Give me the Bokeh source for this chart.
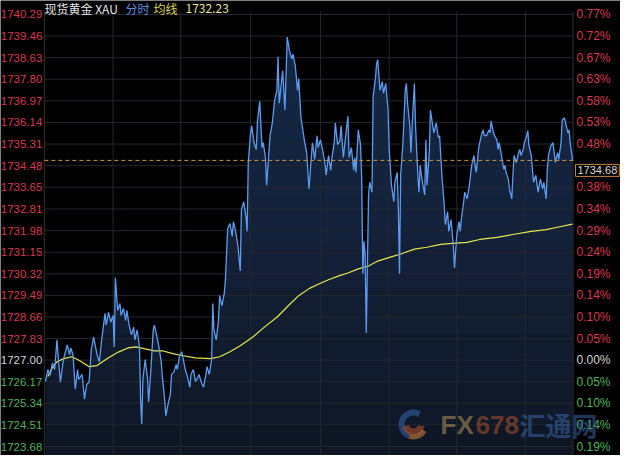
import numpy as np
from bokeh.plotting import figure
from bokeh.models import Label, Range1d, ColumnDataSource
from bokeh.core.properties import value
from bokeh.embed import file_html
from bokeh.resources import INLINE

# ---------------- data ----------------
price_minutes = [
    0, 2, 4, 6, 8, 10, 11, 13, 15, 16,
    19, 21, 22, 24, 26, 28, 29, 32, 34, 36,
    38, 40, 42, 45, 47, 49, 52, 53, 55, 57,
    59, 60, 61, 63, 65, 66, 68, 70, 71, 73,
    75, 77, 78, 80, 82, 83, 84, 85, 87, 89,
    90, 92, 94, 95, 97, 99, 101, 102, 104, 105,
    107, 109, 110, 112, 114, 115, 117, 119, 121, 122,
    124, 126, 127, 129, 131, 133, 134, 136, 138, 140,
    141, 143, 145, 146, 147, 149, 151, 152, 154, 156,
    157, 159, 161, 163, 164, 166, 168, 170, 171, 173,
    175, 176, 177, 179, 180, 182, 184, 185, 187, 189,
    190, 192, 193, 195, 196, 198, 200, 202, 203, 204,
    206, 207, 209, 211, 213, 215, 216, 218, 220, 221,
    223, 225, 226, 228, 230, 232, 233, 235, 237, 238,
    240, 242, 244, 245, 247, 249, 250, 252, 253, 255,
    257, 258, 260, 262, 264, 265, 267, 269, 270, 271,
    273, 275, 276, 277, 278, 279, 280, 282, 283, 285,
    286, 288, 289, 290, 292, 294, 295, 297, 299, 300,
    302, 304, 305, 307, 308, 309, 310, 312, 314, 315,
    316, 318, 319, 320, 322, 323, 325, 326, 327, 329,
    331, 332, 333, 335, 336, 338, 339, 341, 343, 344,
    346, 348, 349, 351, 352, 354, 356, 357, 359, 361,
    362, 363, 365, 366, 368, 370, 371, 372, 374, 375,
    376, 378, 379, 381, 382, 383, 385, 387, 388, 389,
    391, 392, 394, 395, 396, 398, 400, 401, 402, 404,
    405, 407, 408, 409, 411, 413, 414, 415, 417, 418,
    420, 421, 422, 424, 425, 426, 428, 430, 431, 432,
    434, 435, 437, 438, 439, 441, 443, 444, 445, 447,
    448, 450, 451, 453, 454, 456, 457, 458, 460,
]
price_values = [
    1726.18, 1726.64, 1726.41, 1726.90, 1726.64, 1727.78, 1727.21, 1726.15, 1726.83, 1727.09,
    1727.59, 1727.21, 1727.47, 1727.21, 1725.88, 1726.64, 1726.26, 1726.45, 1725.50, 1726.07,
    1726.15, 1727.40, 1727.89, 1727.21, 1726.94, 1727.78, 1728.80, 1728.35, 1728.84, 1728.46,
    1728.72, 1727.51, 1730.17, 1728.91, 1729.18, 1728.72, 1728.99, 1728.53, 1728.91, 1728.35,
    1727.97, 1728.27, 1727.78, 1728.16, 1727.51, 1725.50, 1724.55, 1726.26, 1727.02, 1726.34,
    1725.39, 1726.64, 1728.16, 1728.35, 1727.97, 1727.51, 1726.94, 1726.37, 1725.50, 1724.86,
    1725.31, 1725.69, 1726.45, 1726.53, 1726.83, 1726.64, 1727.17, 1727.32, 1726.87, 1726.64,
    1726.34, 1725.96, 1726.45, 1726.64, 1726.18, 1726.34, 1726.45, 1726.15, 1725.96, 1726.45,
    1726.75, 1726.45, 1727.02, 1729.18, 1728.16, 1727.78, 1728.53, 1729.48, 1729.10, 1729.56,
    1730.05, 1732.06, 1732.25, 1731.76, 1732.33, 1731.95, 1731.38, 1730.43, 1732.78, 1733.09,
    1732.52, 1731.95, 1734.60, 1735.74, 1736.01, 1735.36, 1735.10, 1736.19, 1736.95, 1735.17,
    1735.36, 1734.79, 1733.73, 1734.98, 1735.63, 1736.12, 1736.99, 1737.37, 1738.66, 1736.88,
    1737.71, 1738.13, 1736.61, 1739.42, 1738.89, 1738.58, 1738.77, 1738.32, 1737.37, 1737.83,
    1736.31, 1735.74, 1735.44, 1734.98, 1733.58, 1734.79, 1735.36, 1734.72, 1735.63, 1735.17,
    1735.47, 1735.06, 1734.53, 1734.11, 1734.87, 1734.30, 1734.79, 1735.36, 1736.12, 1735.28,
    1735.44, 1736.01, 1734.79, 1735.63, 1736.38, 1734.79, 1735.17, 1734.30, 1734.79, 1734.22,
    1735.85, 1735.28, 1733.96, 1730.32, 1731.57, 1731.08, 1728.04, 1733.35, 1733.84, 1733.46,
    1737.14, 1737.83, 1738.39, 1738.55, 1737.37, 1737.71, 1737.26, 1737.64, 1736.61, 1735.10,
    1733.73, 1733.09, 1733.84, 1734.22, 1732.82, 1730.32, 1734.11, 1735.36, 1737.37, 1737.64,
    1736.88, 1736.01, 1734.98, 1736.01, 1737.64, 1736.01, 1734.11, 1733.46, 1734.49, 1733.84,
    1733.35, 1735.47, 1733.73, 1734.98, 1736.61, 1736.01, 1735.74, 1736.12, 1735.55, 1735.63,
    1734.11, 1732.97, 1732.21, 1732.71, 1731.95, 1732.40, 1731.38, 1730.54, 1731.83, 1732.33,
    1731.95, 1732.44, 1733.09, 1733.46, 1733.20, 1733.73, 1734.11, 1734.49, 1734.87, 1734.49,
    1734.22, 1735.10, 1735.36, 1735.74, 1735.85, 1735.63, 1735.63, 1735.85, 1735.74, 1736.19,
    1735.74, 1735.63, 1735.47, 1735.10, 1735.36, 1734.87, 1734.34, 1734.49, 1734.22, 1733.96,
    1733.58, 1733.20, 1734.11, 1734.87, 1734.60, 1734.98, 1735.10, 1734.87, 1735.10, 1735.36,
    1735.63, 1735.82, 1735.25, 1734.87, 1734.34, 1733.84, 1734.11, 1733.46, 1733.73, 1733.96,
    1733.58, 1733.84, 1733.20, 1734.34, 1734.87, 1735.25, 1735.36, 1734.98, 1734.60, 1734.98,
    1734.72, 1735.36, 1736.23, 1736.31, 1736.12, 1735.74, 1735.85, 1735.36, 1734.68,
]

avg_minutes = [
    2, 6, 10, 16, 23, 30, 38, 45, 55, 64,
    72, 79, 86, 95, 102, 111, 120, 131, 144, 152,
    161, 170, 181, 191, 202, 213, 221, 230, 239, 247,
    256, 264, 273, 282, 290, 301, 310, 322, 333, 345,
    355, 368, 379, 394, 408, 424, 437, 450, 460,
]
avg_values = [
    1726.37, 1726.71, 1726.94, 1727.06, 1727.13, 1726.98, 1726.75, 1726.79, 1727.09, 1727.32,
    1727.47, 1727.51, 1727.44, 1727.36, 1727.36, 1727.25, 1727.17, 1727.09, 1727.06, 1727.13,
    1727.32, 1727.55, 1727.89, 1728.27, 1728.65, 1729.14, 1729.48, 1729.75, 1729.94, 1730.09,
    1730.24, 1730.35, 1730.51, 1730.62, 1730.81, 1730.96, 1731.08, 1731.27, 1731.34, 1731.45,
    1731.49, 1731.53, 1731.64, 1731.72, 1731.83, 1731.95, 1732.02, 1732.14, 1732.23,
]

tick_values = [1740.29, 1739.46, 1738.63, 1737.80, 1736.97, 1736.14, 1735.31, 1734.48,
               1733.65, 1732.81, 1731.98, 1731.15, 1730.32, 1729.49, 1728.66, 1727.83,
               1727.00, 1726.17, 1725.34, 1724.51, 1723.68]
left_tick_labels = ["1740.29", "1739.46", "1738.63", "1737.80", "1736.97", "1736.14", "1735.31",
                    "1734.48", "1733.65", "1732.81", "1731.98", "1731.15", "1730.32", "1729.49",
                    "1728.66", "1727.83", "1727.00", "1726.17", "1725.34", "1724.51", "1723.68"]
right_tick_labels = ["0.77%", "0.72%", "0.67%", "0.63%", "0.58%", "0.53%", "0.48%", "",
                     "0.38%", "0.34%", "0.29%", "0.24%", "0.19%", "0.14%", "0.10%", "0.05%",
                     "0.00%", "0.05%", "0.10%", "0.14%", "0.19%"]
hour_grid_minutes = [59, 118, 179, 240, 300, 359, 419]

base_price = 1727.00
last_price = 1734.68
avg_last = 1732.23
session_end = 460

# ---------------- styling ----------------
RED = "#d9394f"
WHITE = "#d2d2d2"
GREEN = "#4fb35a"
GRID = "#23272e"
FRAME = "#2e3238"

W, H = 620, 455
x_lo, x_hi = -39.28, 501.9
y_lo, y_hi = 1723.334, 1740.828

p = figure(width=W, height=H, x_range=Range1d(x_lo, x_hi), y_range=Range1d(y_lo, y_hi),
           x_axis_type=None, y_axis_type=None, title=None,
           output_backend="svg", toolbar_location=None, min_border=0,
           background_fill_color="#000000", border_fill_color="#000000",
           outline_line_color=None)
p.grid.visible = False

def sx(px):  # page x -> data x
    return x_lo + (px - 8) * (x_hi - x_lo) / W

def sy(py):  # page y -> data y
    return y_hi - (py - 8) * (y_hi - y_lo) / H

top_grid = tick_values[0] + 0.12
bottom_edge = y_lo - 1

# area fill with vertical shading
px_arr = np.array(price_minutes, dtype=float)
pv_arr = np.array(price_values, dtype=float)
p.varea(x=px_arr, y1=bottom_edge, y2=pv_arr, fill_color="#0f1726", fill_alpha=1.0)
for lvl in np.linspace(1724.5, 1738.5, 9):
    p.varea(x=px_arr, y1=lvl, y2=np.maximum(pv_arr, lvl), fill_color="#2c4c7e", fill_alpha=0.055)

# grid
p.segment(x0=[-1] * len(tick_values), x1=[session_end + 0.5] * len(tick_values),
          y0=tick_values, y1=tick_values, line_color=GRID, line_width=1)
p.segment(x0=hour_grid_minutes, x1=hour_grid_minutes,
          y0=[bottom_edge] * len(hour_grid_minutes), y1=[top_grid] * len(hour_grid_minutes),
          line_color=GRID, line_width=1)
p.segment(x0=[-1, session_end + 0.5], x1=[-1, session_end + 0.5],
          y0=[bottom_edge] * 2, y1=[top_grid] * 2, line_color=FRAME, line_width=1)

# watermark
wm_alpha = 0.55
cx, cy = sx(421), sy(432)
p.annular_wedge(x=[cx], y=[cy], inner_radius=9, outer_radius=15,
                inner_radius_units="screen", outer_radius_units="screen",
                start_angle=np.deg2rad(60), end_angle=np.deg2rad(250),
                fill_color="#3564a8", fill_alpha=wm_alpha, line_color=None)
p.annular_wedge(x=[cx], y=[cy], inner_radius=4, outer_radius=11,
                inner_radius_units="screen", outer_radius_units="screen",
                start_angle=np.deg2rad(190), end_angle=np.deg2rad(350),
                fill_color="#c0542c", fill_alpha=wm_alpha, line_color=None)
p.annular_wedge(x=[cx], y=[cy], inner_radius=10, outer_radius=15,
                inner_radius_units="screen", outer_radius_units="screen",
                start_angle=np.deg2rad(250), end_angle=np.deg2rad(330),
                fill_color="#d08a3a", fill_alpha=wm_alpha, line_color=None)
for txt, x0, col, fnt in [("FX", 448, "#b89558", "Liberation Sans"),
                          ("678", 483, "#b0552e", "Liberation Sans"),
                          ("汇通网", 527, "#3a66a8", "Noto Sans CJK SC")]:
    p.add_layout(Label(x=x0 - 8, y=H - (432 - 8), x_units="screen", y_units="screen",
                       text=txt, text_color=col, text_alpha=wm_alpha,
                       text_font=fnt, text_font_style="bold", text_font_size="26px",
                       text_baseline="middle"))

# lines
p.line(x=avg_minutes, y=avg_values, line_color="#e8e84e", line_width=1.2)
p.line(x=price_minutes, y=price_values, line_color="#5c9cf0", line_width=1.3)
p.segment(x0=[-1], x1=[session_end + 0.5], y0=[last_price], y1=[last_price],
          line_color="#c9963f", line_width=1, line_dash="4 3")

# tick labels
def col_for(v):
    if abs(v - base_price) < 1e-6:
        return WHITE
    return RED if v > base_price else GREEN

colors = [col_for(v) for v in tick_values]
left_src = ColumnDataSource(dict(x=[-1] * len(tick_values), y=tick_values,
                                 text=left_tick_labels, color=colors))
p.text(x="x", y="y", text="text", text_color="color", source=left_src,
       text_align="right", text_baseline="middle", x_offset=-2,
       text_font=value("Liberation Sans"), text_font_size="11.5px")
right_src = ColumnDataSource(dict(x=[session_end] * len(tick_values), y=tick_values,
                                  text=right_tick_labels, color=colors))
p.text(x="x", y="y", text="text", text_color="color", source=right_src,
       text_align="left", text_baseline="middle", x_offset=4,
       text_font=value("Liberation Sans"), text_font_size="12px")

# last price box
p.add_layout(Label(x=session_end, y=last_price, x_offset=3, y_offset=-4,
                   text=f"{last_price:.2f}", text_baseline="top",
                   text_font="Liberation Sans", text_font_size="11px",
                   text_color="#d8d8d8", background_fill_color="#000000",
                   border_line_color="#c8873a", border_line_width=1, padding=2))

# header
head = [("现货黄金 XAU", 44, "#e6e6e6"), ("分时", 125, "#5b8ee0"),
        ("均线", 153, "#dcd45c"), (f"{avg_last:.2f}", 185, "#e4e4a4")]
for txt, x0, col in head:
    p.add_layout(Label(x=x0, y=H - 8, x_units="screen", y_units="screen", text=txt,
                       text_color=col, text_font="Noto Sans CJK SC", text_font_size="12px",
                       text_baseline="middle"))

html = file_html(p, INLINE)
html = html.replace("<body>", '<body style="background-color:#000000;">', 1)
open("out.html", "w").write(html)
